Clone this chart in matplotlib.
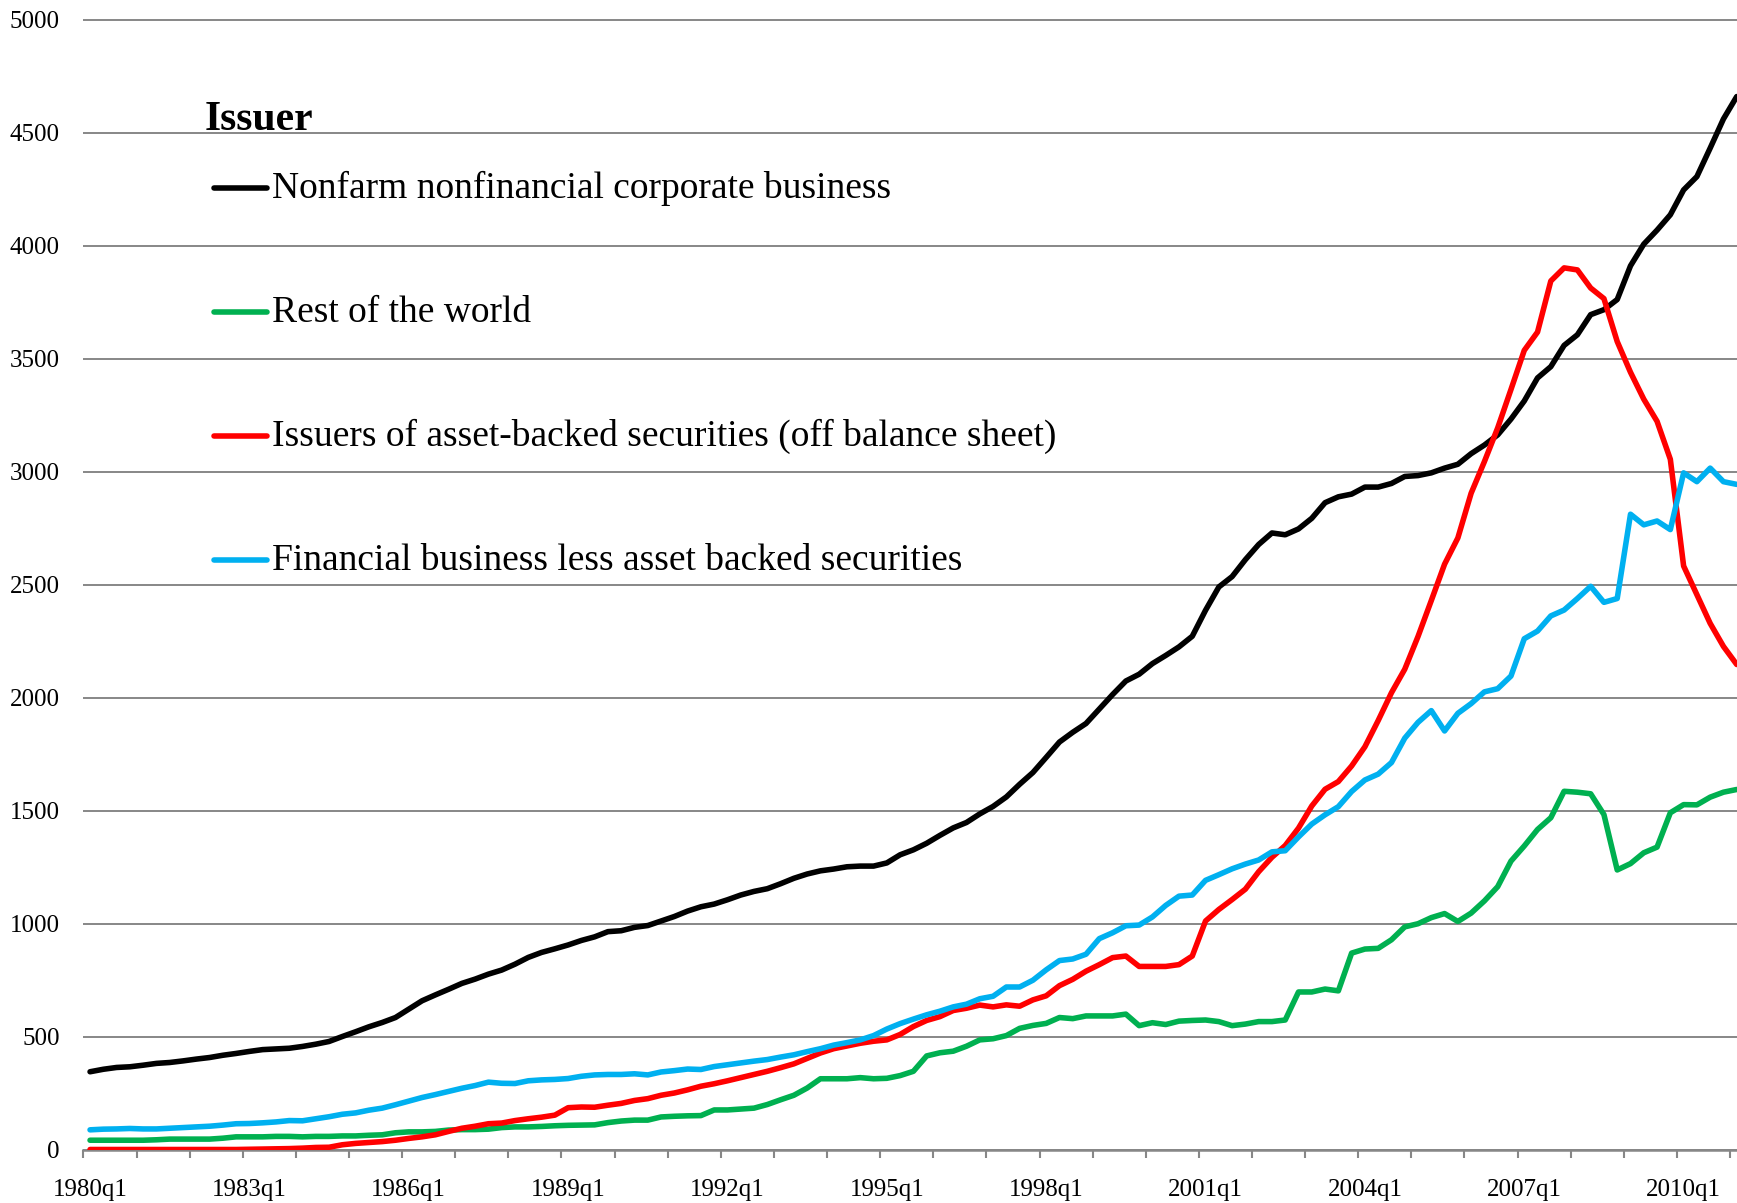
import matplotlib
matplotlib.use("Agg")
import matplotlib.pyplot as plt
from matplotlib.lines import Line2D
import numpy as np

# ---------------- data (billions of dollars, quarterly 1980q1 - 2011q1) ----------------
years = list(range(1980, 2012))
quarters = [f"{y}q{q}" for y in years for q in range(1, 5)][:125]

nonfarm = [344, 355, 363, 366, 373, 381, 385, 392, 400, 407, 417, 425, 434, 442, 445, 448,
           456, 466, 478, 500, 521, 543, 562, 584, 621, 658, 684, 709, 735, 754, 776, 794,
           820, 850, 872, 888, 905,
           925, 941, 964, 968, 983, 991, 1011, 1031, 1055, 1074, 1086, 1105, 1126, 1142, 1154,
           1176, 1200, 1219, 1233, 1241, 1251, 1254, 1254, 1268, 1304, 1326, 1355, 1390, 1423,
           1447, 1485, 1518, 1560, 1616, 1668,
           1735, 1803, 1846, 1885, 1949, 2013, 2073, 2103, 2150, 2186, 2224, 2271, 2386, 2489,
           2535, 2610, 2677, 2728, 2720, 2746, 2793, 2862, 2888, 2900, 2931, 2931, 2947, 2978,
           2982, 2994, 3015, 3032, 3079, 3117, 3162, 3232, 3312, 3414, 3464, 3558, 3605, 3694,
           3716, 3761, 3910, 4006, 4068, 4136, 4246, 4305, 4431, 4560, 4659]

rest_world = [41, 41, 41, 41, 41, 43, 46, 46, 46, 46, 50, 56, 56, 56, 58, 58,
              56, 58, 58, 60, 60, 63, 65, 74, 78, 78, 80, 86, 88, 88, 90, 97,
              100, 100, 102, 105, 107,
              108, 109, 119, 126, 130, 130, 144, 147, 149, 150, 175, 175, 179, 183, 199,
              220, 240, 272, 313, 313, 313, 318, 313, 315, 327, 346, 414, 428, 435, 457,
              485, 490, 504, 536, 549, 558,
              584, 579, 591, 591, 591, 599, 548, 561, 553, 568, 571, 573, 566, 548, 555,
              566, 566, 573, 697, 697, 710, 702, 869, 887, 890, 928, 985, 999,
              1026, 1044, 1009, 1046, 1100, 1163, 1276, 1343, 1416, 1468, 1585, 1581, 1574,
              1482, 1237, 1265, 1313, 1338, 1490, 1526, 1525, 1559, 1581, 1593]

abs_issuers = [0, 0, 0, 0, 0, 0, 0, 0, 0, 0, 0, 0, 1, 2,
               3, 4, 6, 9, 10, 21, 27, 31, 35, 41, 49, 56, 65, 80, 94, 103, 114, 117,
               128, 136, 143, 152, 185,
               188, 187, 196, 204, 217, 225, 240, 250, 264, 280, 291, 304, 318, 332, 346,
               362, 379, 403, 427, 446, 458, 470, 479, 485, 509, 544, 571, 588, 615, 625,
               639, 631, 640, 634, 662, 680,
               725, 753, 789, 818, 849, 856, 810, 810, 810, 818, 856, 1011, 1062, 1106, 1152,
               1229, 1293, 1345, 1422, 1520, 1594, 1628, 1697, 1782, 1898, 2021, 2125, 2270,
               2429, 2590, 2706, 2904, 3044, 3193, 3363, 3536, 3617, 3843, 3901, 3892, 3812,
               3765, 3575, 3439, 3320, 3222, 3054, 2582, 2455, 2328, 2226, 2146]

financial = [87, 90, 91, 93, 91, 91, 94, 97, 100, 103, 108, 114, 115, 118, 122, 128,
             127, 136, 145, 156, 162, 174, 183, 198, 214, 230, 243, 257, 271, 283, 298, 293,
             292, 304, 308, 310, 314,
             324, 330, 332, 332, 335, 330, 343, 349, 356, 354, 367, 375, 383, 391, 398,
             409, 419, 433, 446, 462, 473, 485, 504, 533, 557, 577, 596, 612, 631, 643,
             667, 678, 719, 719, 749, 795,
             836, 843, 864, 933, 959, 990, 993, 1029, 1080, 1121, 1126, 1191, 1216, 1242, 1263,
             1281, 1317, 1322, 1383, 1440, 1481, 1517, 1584, 1635, 1661, 1712, 1820, 1890,
             1942, 1852, 1930, 1973, 2025, 2039, 2095, 2260, 2294, 2361, 2387, 2438, 2492,
             2421, 2438, 2811, 2764, 2781, 2743, 2994, 2955, 3015, 2955, 2943]

series_names = ["Nonfarm nonfinancial corporate business",
                "Rest of the world",
                "Issuers of asset-backed securities (off balance sheet)",
                "Financial business less asset backed securities"]
series_colors = ["#000000", "#00B050", "#FF0000", "#00B0F0"]
series_values = [nonfarm, rest_world, abs_issuers, financial]

y_ticks = [0, 500, 1000, 1500, 2000, 2500, 3000, 3500, 4000, 4500, 5000]
legend_title = "Issuer"

# ---------------- figure ----------------
W, H = 1737, 1203
fig = plt.figure(figsize=(W / 100, H / 100), dpi=100)
SERIF = ["Liberation Serif", "DejaVu Serif"]
LW = 4.0

px_per_unit = 1130 / 5000.0
y0_px = 1149.5
ytop_val = 5010
ax_top_px = y0_px - ytop_val * px_per_unit
left_px = 83.4
ax = fig.add_axes([left_px / W, (H - y0_px) / H, (W - left_px) / W, (y0_px - ax_top_px) / H])

x = np.arange(len(quarters))
for vals, col in zip(series_values, series_colors):
    ax.plot(x[:len(vals)], vals, color=col, lw=LW, solid_joinstyle="round",
            solid_capstyle="round", zorder=3)

ax.set_xlim(-0.5, 124.02)
ax.set_ylim(0, ytop_val)

# y axis
ax.set_yticks(y_ticks)
ax.set_yticklabels([str(v) for v in y_ticks], fontfamily=SERIF, fontsize=18)
ax.tick_params(axis="y", length=0, pad=17)
ax.yaxis.grid(True, color="#878787", lw=1.4, zorder=1)

# x axis: tick marks between years, labels every 3 years
ax.set_xticks(np.arange(-0.5, 124.1, 4))
ax.set_xticklabels([])
ax.tick_params(axis="x", which="major", length=6, width=1.5, color="#878787", direction="out")
lab_pos = list(range(0, 124, 12))
ax.set_xticks(lab_pos, minor=True)
ax.set_xticklabels([quarters[i] for i in lab_pos], minor=True, fontfamily=SERIF, fontsize=18)
ax.tick_params(axis="x", which="minor", length=0, pad=21)

for s in ["top", "right", "left"]:
    ax.spines[s].set_visible(False)
ax.spines["bottom"].set_color("#878787")
ax.spines["bottom"].set_linewidth(1.8)
ax.spines["bottom"].set_zorder(2)


def fx(px):
    return px / W


def fy(py):
    return 1 - py / H


# ---------------- legend (drawn in figure pixels) ----------------
fig.text(fx(205), fy(129.5), legend_title, fontfamily=SERIF, fontweight="bold",
         fontsize=30, va="baseline", ha="left")
line_y = [188, 312, 436, 560]
for name, col, ly in zip(series_names, series_colors, line_y):
    fig.add_artist(Line2D([fx(214), fx(267)], [fy(ly), fy(ly)], color=col, lw=LW,
                          solid_capstyle="round", transform=fig.transFigure))
    fig.text(fx(272), fy(ly + 10), name, fontfamily=SERIF, fontsize=27.0,
             va="baseline", ha="left")

fig.savefig("out.png", dpi=100)
